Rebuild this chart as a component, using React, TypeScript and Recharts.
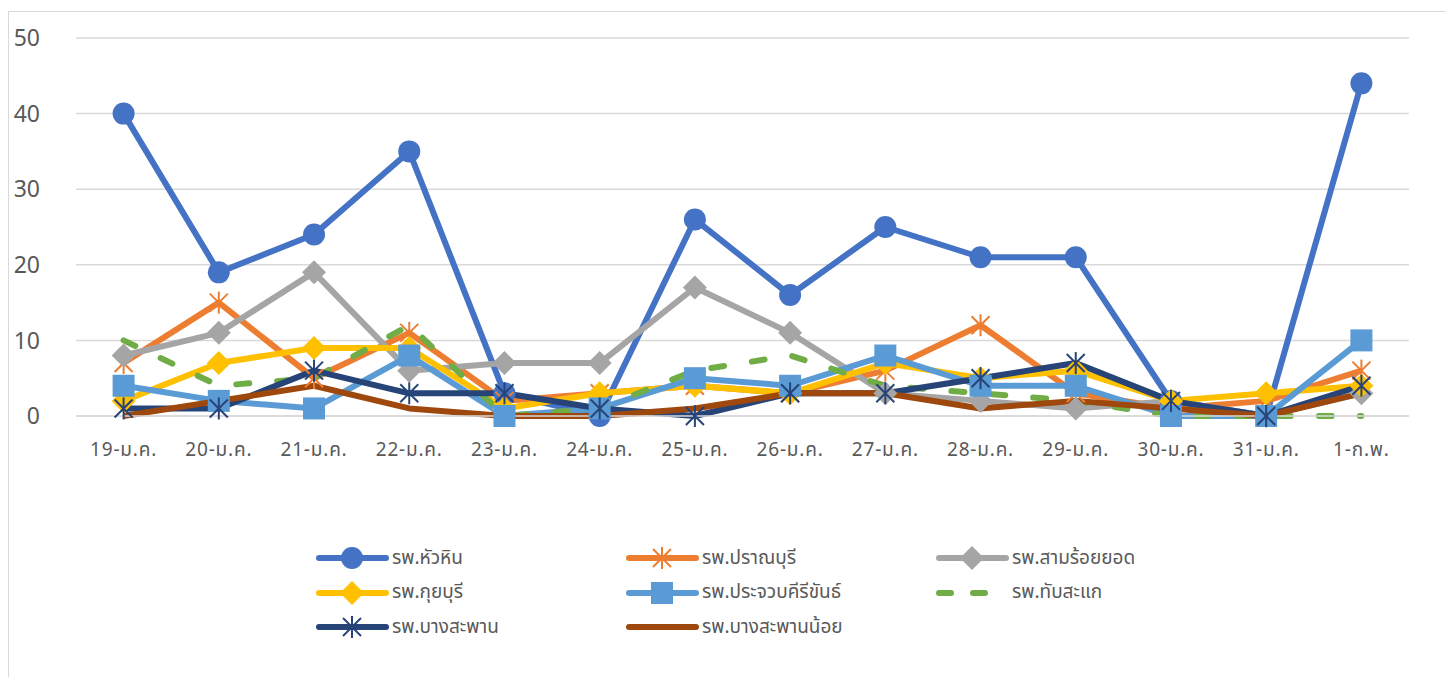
import { CartesianGrid, Legend, Line, LineChart, XAxis, YAxis } from 'recharts'

const DATES = [
  '19-ม.ค.', '20-ม.ค.', '21-ม.ค.', '22-ม.ค.', '23-ม.ค.', '24-ม.ค.', '25-ม.ค.',
  '26-ม.ค.', '27-ม.ค.', '28-ม.ค.', '29-ม.ค.', '30-ม.ค.', '31-ม.ค.', '1-ก.พ.',
]

const HUA_HIN = [40, 19, 24, 35, 3, 0, 26, 16, 25, 21, 21, 2, 0, 44]
const PRANBURI = [7, 15, 5, 11, 2, 3, 4, 3, 6, 12, 3, 1, 2, 6]
const SAM_ROI_YOT = [8, 11, 19, 6, 7, 7, 17, 11, 3, 2, 1, 2, 0, 3]
const KUI_BURI = [2, 7, 9, 9, 1, 3, 4, 3, 7, 5, 6, 2, 3, 4]
const PRACHUAP = [4, 2, 1, 8, 0, 1, 5, 4, 8, 4, 4, 0, 0, 10]
const THAP_SAKAE = [10, 4, 5, 12, 0, 1, 6, 8, 4, 3, 2, 0, 0, 0]
const BANG_SAPHAN = [1, 1, 6, 3, 3, 1, 0, 3, 3, 5, 7, 2, 0, 4]
const BANG_SAPHAN_NOI = [0, 2, 4, 1, 0, 0, 1, 3, 3, 1, 2, 1, 0, 3]

const Y_TICKS = [0, 10, 20, 30, 40, 50]
// category boundaries for the little tick marks under the x axis
const BOUNDS = [...DATES.map((_, i) => i), DATES.length]

type Marker = 'circle' | 'star' | 'diamond' | 'square' | 'none'

const SERIES: { key: string; name: string; color: string; marker: Marker; values: number[]; dash?: string }[] = [
  { key: 'huaHin', name: 'รพ.หัวหิน', color: '#4472C4', marker: 'circle', values: HUA_HIN },
  { key: 'pranburi', name: 'รพ.ปราณบุรี', color: '#ED7D31', marker: 'star', values: PRANBURI },
  { key: 'samRoiYot', name: 'รพ.สามร้อยยอด', color: '#A5A5A5', marker: 'diamond', values: SAM_ROI_YOT },
  { key: 'kuiBuri', name: 'รพ.กุยบุรี', color: '#FFC000', marker: 'diamond', values: KUI_BURI },
  { key: 'prachuap', name: 'รพ.ประจวบคีรีขันธ์', color: '#5B9BD5', marker: 'square', values: PRACHUAP },
  { key: 'thapSakae', name: 'รพ.ทับสะแก', color: '#70AD47', marker: 'none', values: THAP_SAKAE, dash: '13 28' },
  { key: 'bangSaphan', name: 'รพ.บางสะพาน', color: '#264478', marker: 'star', values: BANG_SAPHAN },
  { key: 'bangSaphanNoi', name: 'รพ.บางสะพานน้อย', color: '#9E480E', marker: 'none', values: BANG_SAPHAN_NOI },
]

const data = DATES.map((date, i) => {
  const row: Record<string, string | number> = { date, pos: i + 0.5 }
  SERIES.forEach((s) => {
    row[s.key] = s.values[i]
  })
  return row
})

const FONT = "'Noto Sans Thai', 'Leelawadee UI', Tahoma, 'Noto Sans', 'DejaVu Sans', sans-serif"
const TEXT = '#595959'

function markerShape(marker: Marker, color: string, cx: number, cy: number, k?: string | number) {
  if (marker === 'circle') return <circle key={k} cx={cx} cy={cy} r={11} fill={color} />
  if (marker === 'square') return <rect key={k} x={cx - 11} y={cy - 11} width={22} height={22} fill={color} />
  if (marker === 'diamond')
    return <path key={k} d={`M${cx},${cy - 12}L${cx + 12},${cy}L${cx},${cy + 12}L${cx - 12},${cy}Z`} fill={color} />
  if (marker === 'star')
    return (
      <g key={k} stroke={color} strokeWidth={2}>
        <line x1={cx} y1={cy - 11} x2={cx} y2={cy + 11} />
        <line x1={cx - 9} y1={cy - 9} x2={cx + 9} y2={cy + 9} />
        <line x1={cx - 9} y1={cy + 9} x2={cx + 9} y2={cy - 9} />
      </g>
    )
  return <g key={k} />
}

function LegendBox({ payload }: any) {
  // keep the series order, not the sorted payload order
  const items = SERIES.filter((s) => (payload ?? []).some((p: any) => p.dataKey === s.key))
  return (
    <div style={{ display: 'grid', gridTemplateColumns: 'repeat(3, 310px)', fontFamily: FONT, fontSize: 19, color: TEXT }}>
      {items.map((s) => (
        <div key={s.key} style={{ display: 'flex', alignItems: 'center', height: 34.5 }}>
          <svg width={76} height={30} style={{ flex: 'none' }}>
            <line x1={3} y1={15} x2={70} y2={15} stroke={s.color} strokeWidth={6} strokeLinecap="round"
              strokeDasharray={s.dash ? '12 22' : undefined} />
            {s.marker === 'none' ? null : markerShape(s.marker, s.color, 36, 15)}
          </svg>
          <span>{s.name}</span>
        </div>
      ))}
    </div>
  )
}

export default function App() {
  return (
    <div
      style={{
        position: 'fixed',
        left: 8,
        top: 11,
        width: 1437,
        height: 665,
        borderLeft: '1px solid #d9d9d9',
        borderTop: '1px solid #d9d9d9',
        background: '#fff',
      }}
    >
      <LineChart width={1437} height={665} data={data} margin={{ top: 26, right: 37, left: 7, bottom: 221 }}>
        <CartesianGrid vertical={false} stroke="#d9d9d9" strokeWidth={1.5} />
        <XAxis
          xAxisId="bounds"
          type="number"
          dataKey="pos"
          domain={[0, DATES.length]}
          ticks={BOUNDS}
          tick={false}
          tickSize={7}
          tickLine={{ stroke: '#d9d9d9', strokeWidth: 1.5 }}
          axisLine={false}
          height={0}
        />
        <XAxis
          dataKey="date"
          height={40}
          padding={{ left: 47.6, right: 47.6 }}
          tickLine={false}
          tickSize={0}
          tickMargin={27}
          axisLine={{ stroke: '#d9d9d9', strokeWidth: 1.5 }}
          tick={{ fill: TEXT, fontSize: 19, fontFamily: FONT, letterSpacing: 0.8 }}
          interval={0}
        />
        <YAxis
          domain={[0, 50]}
          ticks={Y_TICKS}
          width={60}
          axisLine={false}
          tickLine={false}
          tickSize={0}
          tickMargin={36}
          tick={{ fill: TEXT, fontSize: 23, fontFamily: FONT }}
        />
        <Legend
          layout="horizontal"
          verticalAlign="middle"
          align="center"
          content={<LegendBox />}
          wrapperStyle={{ top: 529, left: 307, width: 940 }}
        />
        {SERIES.map((s) => (
          <Line
            key={s.key}
            dataKey={s.key}
            name={s.name}
            stroke={s.color}
            strokeWidth={6}
            strokeDasharray={s.dash}
            strokeLinecap={s.dash ? 'round' : 'butt'}
            strokeLinejoin="round"
            type="linear"
            dot={s.marker === 'none' ? false : (p: any) => markerShape(s.marker, s.color, p.cx, p.cy, p.key ?? p.index)}
            activeDot={false}
            isAnimationActive={false}
          />
        ))}
      </LineChart>
    </div>
  )
}
